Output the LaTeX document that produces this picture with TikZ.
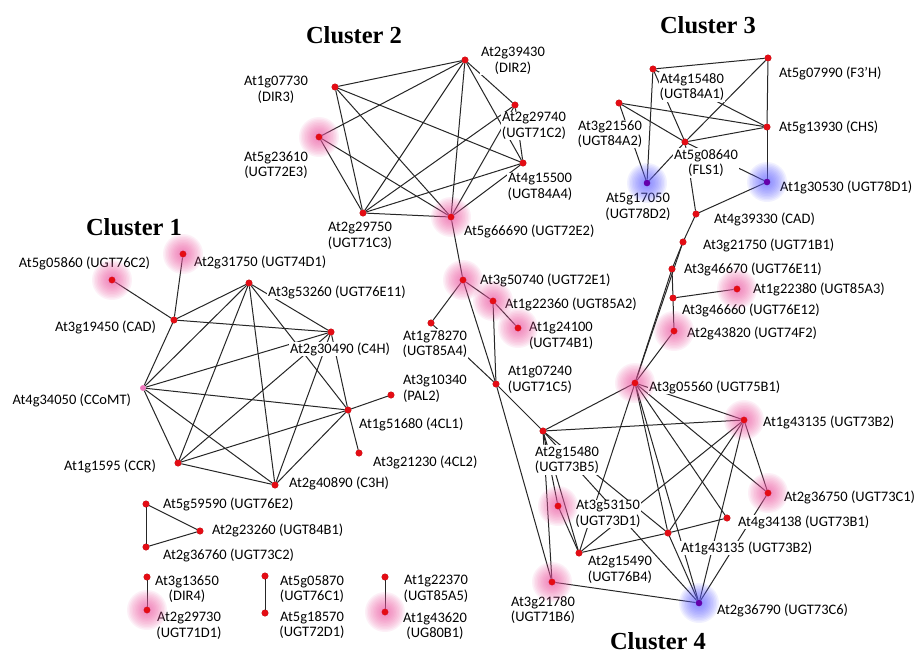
\documentclass[tikz,border=0pt]{standalone}
\usepackage{fontspec}
\setmainfont{Carlito}
\newfontfamily\titlefont{Liberation Serif}
\definecolor{dotred}{RGB}{228,12,20}
\definecolor{dotpink}{RGB}{240,120,190}
\definecolor{dotblue}{RGB}{100,0,170}
\definecolor{halopink}{RGB}{240,90,165}
\definecolor{haloblue}{RGB}{100,100,255}
\newcommand\myhalo[2]{\foreach \rr in {20,18.5,...,2}{\fill[#2, fill opacity=0.085] (#1) circle[radius=\rr pt];}}
\begin{document}
\begin{tikzpicture}[x=1pt,y=-1pt,
  dot/.style={circle,fill=dotred,draw=dotred!70!black,line width=0.3pt,inner sep=0pt,minimum size=6.5pt},
  pdot/.style={circle,fill=dotpink,inner sep=0pt,minimum size=5.5pt},
  bdot/.style={circle,fill=dotblue,inner sep=0pt,minimum size=6.5pt},
  edge/.style={draw=black!85,line width=1pt},
  lbl/.style={font=\fontsize{14.5}{15.5}\selectfont,inner sep=0.8pt,fill=white},
  lbl2/.style={lbl,align=center},
  ttl/.style={font=\titlefont\bfseries\fontsize{24.5}{28}\selectfont,inner sep=0pt}]
\useasboundingbox[fill=white] (0,0) rectangle (919,654);

% ---------- nodes ----------
% Cluster 1
\node[dot] (a1) at (112,280) {};
\node[dot] (a2) at (183,254) {};
\node[dot] (a3) at (174,320) {};
\node[dot] (a4) at (249,283) {};
\node[dot] (a5) at (331,332) {};
\node[pdot] (a6) at (143,388) {};
\node[dot] (a7) at (178,463) {};
\node[dot] (a8) at (275,485) {};
\node[dot] (a9) at (348,410) {};
\node[dot] (a10) at (391,395) {};
\node[dot] (a11) at (359,453) {};
\node[dot] (a12) at (146,504) {};
\node[dot] (a13) at (200,531) {};
\node[dot] (a14) at (146,547) {};
\node[dot] (a15) at (147,577) {};
\node[dot] (a16) at (147,610) {};
\node[dot] (a17) at (265,576) {};
\node[dot] (a18) at (265,613) {};
\node[dot] (a19) at (385,577) {};
\node[dot] (a20) at (385,612) {};
% Cluster 2
\node[dot] (b1) at (465,60) {};
\node[dot] (b2) at (335,87) {};
\node[dot] (b3) at (515,105) {};
\node[dot] (b4) at (319,137) {};
\node[dot] (b5) at (523,163) {};
\node[dot] (b6) at (363,213) {};
\node[dot] (b7) at (451,217) {};
\node[dot] (b8) at (463,280) {};
\node[dot] (b9) at (493,301) {};
\node[dot] (b10) at (518,328) {};
\node[dot] (b11) at (431,323) {};
\node[dot] (b12) at (496,384) {};
% Cluster 3
\node[dot] (c1) at (653,69) {};
\node[dot] (c2) at (768,58) {};
\node[dot] (c3) at (619,103) {};
\node[dot] (c4) at (767,127) {};
\node[dot] (c5) at (685,142) {};
\node[bdot] (c6) at (647,183) {};
\node[bdot] (c7) at (767,182) {};
\node[dot] (c8) at (696,214) {};
\node[dot] (c9) at (683,242) {};
\node[dot] (c10) at (672,269) {};
\node[dot] (c11) at (673,298) {};
\node[dot] (c12) at (737,289) {};
\node[dot] (c13) at (674,331) {};
% Cluster 4
\node[dot] (d1) at (635,383) {};
\node[dot] (d2) at (744,420) {};
\node[dot] (d3) at (543,431) {};
\node[dot] (d4) at (768,493) {};
\node[dot] (d5) at (727,518) {};
\node[dot] (d6) at (668,533) {};
\node[dot] (d7) at (579,553) {};
\node[dot] (d8) at (552,582) {};
\node[dot] (d9) at (558,506) {};
\node[bdot] (d10) at (699,603) {};

% ---------- edges ----------
\foreach \u/\v in {a3/a1,a3/a2,a3/a4,a3/a5,a3/a6,a4/a5,a4/a9,a4/a8,a4/a7,a4/a6,
  a5/a9,a5/a8,a5/a7,a5/a6,a9/a8,a9/a7,a9/a6,a9/a10,a9/a11,a8/a7,a8/a6,a7/a6,
  a12/a13,a13/a14,a12/a14,a15/a16,a17/a18,a19/a20,
  b1/b2,b1/b3,b1/b4,b1/b5,b1/b6,b1/b7,b2/b5,b2/b6,b2/b7,b3/b5,b3/b6,b3/b7,
  b4/b6,b4/b7,b5/b6,b5/b7,b6/b7,b7/b8,b8/b9,b9/b10,b8/b11,b8/b12,b9/b12,b11/b12,
  b12/d3,b12/d8,
  c1/c2,c1/c6,c1/c5,c1/c4,c2/c4,c2/c5,c5/c6,c3/c4,c3/c5,c3/c6,c5/c4,c4/c7,c5/c7,
  c5/c8,c8/c7,c8/c9,c9/c10,c10/c11,c11/c12,c11/c13,c10/d1,c9/d1,c13/d1,
  d1/d3,d1/d2,d1/d4,d1/d5,d1/d6,d1/d10,d1/d7,d3/d2,d3/d9,d3/d8,d3/d7,d3/d6,d3/d10,
  d2/d4,d2/d6,d2/d7,d2/d10,d4/d10,d5/d6,d6/d7,d9/d7,d8/d10,d6/d10}
  \draw[edge] (\u) -- (\v);

% ---------- labels ----------
\node[lbl] (ta1) at (84.5,263) {At5g05860 (UGT76C2)};
\node[lbl,anchor=west] (ta2) at (193,262) {At2g31750 (UGT74D1)};
\node[lbl,anchor=east] (ta3) at (157,327) {At3g19450 (CAD)};
\node[lbl,anchor=west] (ta4) at (267,292) {At3g53260 (UGT76E11)};
\node[lbl] (ta5) at (340,349) {At2g30490 (C4H)};
\node[lbl,anchor=east] (ta6) at (132,400) {At4g34050 (CCoMT)};
\node[lbl,anchor=east] (ta7) at (157,466) {At1g1595 (CCR)};
\node[lbl,anchor=west] (ta8) at (288,483) {At2g40890 (C3H)};
\node[lbl,anchor=west] (ta9) at (358,424) {At1g51680 (4CL1)};
\node[lbl,anchor=west,align=left] (ta10) at (402,389) {At3g10340\\(PAL2)};
\node[lbl,anchor=west] (ta11) at (372,462) {At3g21230 (4CL2)};
\node[lbl,anchor=west] (ta12) at (162,504) {At5g59590 (UGT76E2)};
\node[lbl,anchor=west] (ta13) at (211,530) {At2g23260 (UGT84B1)};
\node[lbl,anchor=west] (ta14) at (162,555) {At2g36760 (UGT73C2)};
\node[lbl2] (ta15) at (187,589) {At3g13650\\(DIR4)};
\node[lbl2] (ta16) at (189,626) {At2g29730\\(UGT71D1)};
\node[lbl2] (ta17) at (312,589) {At5g05870\\(UGT76C1)};
\node[lbl2] (ta18) at (312,625) {At5g18570\\(UGT72D1)};
\node[lbl2] (ta19) at (436,589) {At1g22370\\(UGT85A5)};
\node[lbl2] (ta20) at (435,626) {At1g43620\\(UG80B1)};

\node[lbl2] (tb1) at (513,61) {At2g39430\\(DIR2)};
\node[lbl2] (tb2) at (276,90) {At1g07730\\(DIR3)};
\node[lbl2] (tb3) at (534,126) {At2g29740\\(UGT71C2)};
\node[lbl2] (tb4) at (276,165) {At5g23610\\(UGT72E3)};
\node[lbl2] (tb5) at (540,187) {At4g15500\\(UGT84A4)};
\node[lbl2] (tb6) at (360,236) {At2g29750\\(UGT71C3)};
\node[lbl,anchor=west] (tb7) at (463,231) {At5g66690 (UGT72E2)};
\node[lbl,anchor=west] (tb8) at (479,280) {At3g50740 (UGT72E1)};
\node[lbl,anchor=west] (tb9) at (504,304) {At1g22360 (UGT85A2)};
\node[lbl,anchor=west,align=left] (tb10) at (528,336) {At1g24100\\(UGT74B1)};
\node[lbl2] (tb11) at (435,344) {At1g78270\\(UGT85A4)};
\node[lbl2] (tb12) at (540,380) {At1g07240\\(UGT71C5)};

\node[lbl2] (tc1) at (692,87) {At4g15480\\(UGT84A1)};
\node[lbl,anchor=west] (tc2) at (778,73) {At5g07990 (F3’H)};
\node[lbl2] (tc3) at (610,134) {At3g21560\\(UGT84A2)};
\node[lbl,anchor=west] (tc4) at (778,127) {At5g13930 (CHS)};
\node[lbl2] (tc5) at (706,163) {At5g08640\\(FLS1)};
\node[lbl2] (tc6) at (638,207) {At5g17050\\(UGT78D2)};
\node[lbl,anchor=west] (tc7) at (779,187) {At1g30530 (UGT78D1)};
\node[lbl,anchor=west] (tc8) at (713,219) {At4g39330 (CAD)};
\node[lbl,anchor=west] (tc9) at (702,245) {At3g21750 (UGT71B1)};
\node[lbl,anchor=west] (tc10) at (683,269) {At3g46670 (UGT76E11)};
\node[lbl,anchor=west] (tc11) at (681,310) {At3g46660 (UGT76E12)};
\node[lbl,anchor=west] (tc12) at (752,289) {At1g22380 (UGT85A3)};
\node[lbl,anchor=west] (tc13) at (686,333) {At2g43820 (UGT74F2)};

\node[lbl,anchor=west] (td1) at (648,387) {At3g05560 (UGT75B1)};
\node[lbl,anchor=west] (td2) at (762,422) {At1g43135 (UGT73B2)};
\node[lbl2] (td3) at (567,460) {At2g15480\\(UGT73B5)};
\node[lbl,anchor=west] (td4) at (783,497) {At2g36750 (UGT73C1)};
\node[lbl,anchor=west] (td5) at (737,522) {At4g34138 (UGT73B1)};
\node[lbl,anchor=west] (td6) at (680,548) {At1g43135 (UGT73B2)};
\node[lbl2] (td7) at (620,570) {At2g15490\\(UGT76B4)};
\node[lbl2] (td8) at (543,610) {At3g21780\\(UGT71B6)};
\node[lbl2] (td9) at (608,514) {At3g53150\\(UGT73D1)};
\node[lbl,anchor=west] (td10) at (716,610) {At2g36790 (UGT73C6)};

% ---------- titles ----------
\node[ttl] (cl1) at (134,227) {Cluster 1};
\node[ttl] (cl2) at (354,35) {Cluster 2};
\node[ttl] (cl3) at (708,25) {Cluster 3};
\node[ttl] (cl4) at (658,641) {Cluster 4};

% ---------- halos ----------
\foreach \n in {a1,a2,a16,a20,b4,b7,b8,b9,b10,c12,c13,d1,d2,d4,d8,d9}{\myhalo{\n}{halopink}}
\foreach \n in {c6,c7,d10}{\myhalo{\n}{haloblue}}

% ---------- dots on top ----------
\foreach \n in {a1,a2,a3,a4,a5,a7,a8,a9,a10,a11,a12,a13,a14,a15,a16,a17,a18,a19,a20,
  b1,b2,b3,b4,b5,b6,b7,b8,b9,b10,b11,b12,c1,c2,c3,c4,c5,c8,c9,c10,c11,c12,c13,
  d1,d2,d3,d4,d5,d6,d7,d8,d9}
  \fill[dotred] (\n) circle[radius=3.2pt];
\foreach \n in {c6,c7,d10}\fill[dotblue] (\n) circle[radius=3.2pt];
\fill[dotpink] (a6) circle[radius=2.8pt];
\end{tikzpicture}
\end{document}
